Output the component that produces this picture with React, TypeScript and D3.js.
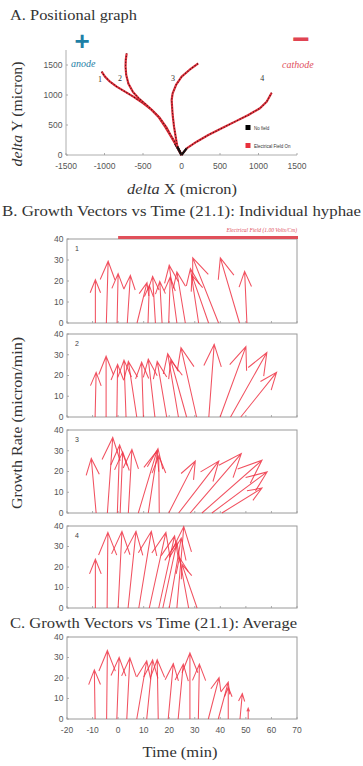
import React from 'react';
import * as d3 from 'd3';

// ---------- Panel A: positional tracks (delta X, delta Y in micron) ----------
const track1: [number, number][] = [[0,0],[-84,194],[-149,333],[-214,472],[-301,639],[-387,750],[-496,861],[-626,972],[-734,1056],[-842,1139],[-929,1222],[-994,1306],[-1037,1389]];
const track2: [number, number][] = [[0,0],[-70,180],[-140,330],[-200,470],[-290,630],[-380,745],[-470,850],[-560,950],[-630,1050],[-690,1190],[-718,1333],[-727,1472],[-724,1583],[-712,1694]];
const track3: [number, number][] = [[0,0],[-54,139],[-76,306],[-97,472],[-115,667],[-128,917],[-115,1028],[-71,1167],[2,1306],[102,1417],[218,1528]];
const track4: [number, number][] = [[0,0],[67,111],[197,222],[348,333],[522,444],[695,556],[868,667],[1019,778],[1106,889],[1171,1039]];
const trackLabels = ['1', '2', '3', '4'];
const trackLabelPos: [number, number][] = [[-1060,1220],[-800,1230],[-110,1230],[1050,1230]];
const axTicksX = [-1500, -1000, -500, 0, 500, 1000, 1500];
const axTicksY = [0, 500, 1000, 1500];

// ---------- Panel B: growth vectors for individual hyphae ----------
// base time (min), tip time (min), growth rate (micron/min)
const h1Base = [-8.9, -4.6, -0.4, 3.6, 7.4, 11.7, 14.6, 17.2, 19.8, 23.0, 26.3, 31.5, 35.4, 39.3, 47.5, 50.4];
const h1Tip  = [-8.9, -3.9, 0.0, 4.8, 11.3, 12.2, 13.5, 16.3, 20.4, 20.0, 23.0, 28.3, 28.9, 29.2, 40.0, 49.5];
const h1Rate = [20.6, 29.4, 23.5, 22.7, 19.2, 17.9, 22.2, 19.8, 21.9, 27.5, 24.3, 25.9, 22.7, 31.0, 31.0, 24.6];

const h2Base = [-9.0, -4.7, -0.5, 3.1, 7.3, 9.9, 14.4, 19.0, 23.6, 26.8, 30.7, 35.5, 39.9, 44.0, 48.0];
const h2Tip  = [-8.6, -4.7, -0.2, 2.3, 4.0, 9.2, 11.8, 15.3, 19.4, 20.6, 24.6, 37.6, 50.0, 58.2, 62.0];
const h2Rate = [21.5, 29.3, 25.4, 27.4, 26.8, 26.4, 27.9, 26.8, 30.5, 27.4, 33.4, 35.0, 33.9, 31.1, 21.5];

const h3Base = [-8.6, -4.2, -0.3, 0.8, 4.0, 7.9, 11.8, 16.1, 19.8, 23.7, 28.2, 32.8, 36.7, 40.6];
const h3Tip  = [-10.5, -2.1, 0.6, 1.8, 5.4, 15.2, 15.6, 15.9, 30.2, 39.4, 48.2, 56.3, 58.3, 56.3];
const h3Rate = [26.3, 36.4, 32.8, 29.5, 30.7, 29.9, 31.0, 27.5, 25.0, 25.0, 28.6, 25.4, 19.8, 12.0];

const h4Base = [-8.9, -4.3, 0.0, 3.9, 8.1, 12.2, 15.9, 17.5, 20.0, 23.0, 27.6, 30.9];
const h4Tip  = [-8.9, -4.0, 1.5, 7.0, 13.0, 18.7, 22.1, 23.0, 24.7, 25.7, 24.0, 25.0];
const h4Rate = [23.8, 36.9, 37.4, 37.4, 37.4, 36.9, 35.2, 32.0, 34.1, 39.7, 24.6, 21.3];

// ---------- Panel C: average growth vectors ----------
const avgBase = [-9.0, -4.5, -0.5, 3.4, 7.3, 11.2, 15.7, 19.6, 23.5, 28.1, 31.4, 35.3, 39.2, 43.1, 47.7, 50.9];
const avgTip  = [-9.3, -4.2, 0.4, 4.6, 11.2, 13.5, 15.3, 21.6, 25.5, 28.1, 31.8, 39.5, 43.1, 43.1, 48.6, 50.9];
const avgRate = [24.0, 33.4, 30.1, 29.8, 28.4, 28.8, 28.9, 27.0, 26.8, 32.2, 26.8, 20.2, 18.0, 15.5, 12.4, 5.3];

const timeTicks = [-20, -10, 0, 10, 20, 30, 40, 50, 60, 70];
const rateTicks = [0, 10, 20, 30, 40];
const fieldStart = 0;
const fieldEnd = 70;

const SERIF = '"Liberation Serif", "DejaVu Serif", serif';
const SANS = '"Liberation Sans", Arial, sans-serif';
const RED = '#ee3344';
const TEAL = '#1e80a6';

function arrowPath(x0: number, y0: number, x1: number, y1: number) {
  const dx = x1 - x0, dy = y1 - y0;
  const L = Math.hypot(dx, dy) || 1;
  const ux = dx / L, uy = dy / L;
  const h = 0.3 * L, w = 0.12 * L;
  const bx = x1 - h * ux, by = y1 - h * uy;
  const p = d3.path();
  p.moveTo(x0, y0); p.lineTo(x1, y1);
  p.moveTo(bx - w * uy, by + w * ux); p.lineTo(x1, y1); p.lineTo(bx + w * uy, by - w * ux);
  return p.toString();
}

const xT = d3.scaleLinear().domain([-20, 70]).range([67, 297]);

function VectorPanel({ bottom, height, base, tip, rate, label, showX, field }: any) {
  const y = d3.scaleLinear().domain([0, 40]).range([bottom, bottom - height]);
  const [x0, x1] = xT.range();
  return (
    <g>
      <rect x={x0} y={bottom - height} width={x1 - x0} height={height} fill="#fff" stroke="#9a9a9a" strokeWidth={1} />
      {timeTicks.map((t) => (
        <line key={'xt' + t} x1={xT(t)} x2={xT(t)} y1={bottom} y2={bottom - 2} stroke="#9a9a9a" strokeWidth={0.8} />
      ))}
      {rateTicks.map((r) => (
        <g key={'yt' + r}>
          <line x1={x0} x2={x0 + 2} y1={y(r)} y2={y(r)} stroke="#9a9a9a" strokeWidth={0.8} />
          <text x={x0 - 3.5} y={y(r)} dy="0.35em" textAnchor="end" fontFamily={SANS} fontSize={8.5} fill="#555">{r}</text>
        </g>
      ))}
      {showX && timeTicks.map((t) => (
        <text key={'xl' + t} x={xT(t)} y={bottom + 14} textAnchor="middle" fontFamily={SANS} fontSize={8.5} fill="#555">{t}</text>
      ))}
      {label && (
        <text x={x0 + 8} y={bottom - height + 12} fontFamily={SANS} fontSize={7} fill="#444">{label}</text>
      )}
      {base.map((b: number, i: number) => (
        <path key={i} d={arrowPath(xT(b), y(0), xT(tip[i]), y(rate[i]))} fill="none" stroke={RED} strokeWidth={1.05} strokeOpacity={0.85} strokeLinejoin="miter" />
      ))}
      {field && (
        <g>
          <line x1={xT(fieldStart)} x2={xT(fieldEnd) + 1} y1={bottom - height - 1.5} y2={bottom - height - 1.5} stroke="#e0505a" strokeWidth={3} />
          <text x={xT(fieldEnd)} y={bottom - height - 7} textAnchor="end" fontFamily={SERIF} fontStyle="italic" fontSize={5.5} fill="#e05060">Electrical Field (1.00 Volts/Cm)</text>
        </g>
      )}
    </g>
  );
}

export default function App() {
  const xA = d3.scaleLinear().domain([-1500, 1500]).range([66, 297]);
  const yA = d3.scaleLinear().domain([0, 1750]).range([155, 50]);
  const line = d3.line<[number, number]>().x((d) => xA(d[0])).y((d) => yA(d[1]));
  const tracks = [track1, track2, track3, track4];

  return (
    <svg width={363} height={766} style={{ position: 'absolute', left: 0, top: 0, background: '#fff' }}>
      <rect x={0} y={0} width={363} height={766} fill="#fff" />
      {/* Panel A */}
      <text x={10} y={20} textLength={127} lengthAdjust="spacingAndGlyphs" fontFamily={SERIF} fontSize={15.5} fill="#333">A. Positional graph</text>
      <text x={82} y={49.5} textAnchor="middle" fontFamily={SANS} fontWeight="bold" fontSize={26} fill={TEAL}>+</text>
      <text x={301} y={49} textAnchor="middle" fontFamily={SANS} fontWeight="bold" fontSize={30} fill="#e04452">−</text>
      <text x={71} y={67} fontFamily={SERIF} fontStyle="italic" fontSize={10} fill={TEAL}>anode</text>
      <text x={282} y={68} fontFamily={SERIF} fontStyle="italic" fontSize={10} fill="#e05060">cathode</text>

      <line x1={xA(-1500)} x2={xA(1500)} y1={yA(0)} y2={yA(0)} stroke="#999" strokeWidth={0.8} />
      <line x1={xA(-1500)} x2={xA(-1500)} y1={yA(0)} y2={yA(1750)} stroke="#999" strokeWidth={0.8} />
      {axTicksX.map((t) => (
        <g key={'ax' + t}>
          <line x1={xA(t)} x2={xA(t)} y1={yA(0)} y2={yA(0) - 2} stroke="#999" strokeWidth={0.8} />
          <text x={xA(t)} y={yA(0) + 14} textAnchor="middle" fontFamily={SANS} fontSize={8.5} fill="#555">{t}</text>
        </g>
      ))}
      {axTicksY.map((t) => (
        <g key={'ay' + t}>
          <line x1={xA(-1500)} x2={xA(-1500) + 2} y1={yA(t)} y2={yA(t)} stroke="#999" strokeWidth={0.8} />
          <text x={xA(-1500) - 3.5} y={yA(t)} dy="0.35em" textAnchor="end" fontFamily={SANS} fontSize={8.5} fill="#555">{t}</text>
        </g>
      ))}
      {tracks.map((tr, i) => (
        <g key={'tr' + i}>
          <path d={line(tr) || ''} fill="none" stroke="#e0303c" strokeWidth={2.2} strokeLinejoin="round" />
          <path d={line(tr) || ''} fill="none" stroke="#3a1010" strokeWidth={1.1} strokeDasharray="1 2" />
          <path d={line(tr.slice(0, 2)) || ''} fill="none" stroke="#111" strokeWidth={2.2} />
        </g>
      ))}
      {trackLabels.map((l, i) => (
        <text key={'tl' + i} x={xA(trackLabelPos[i][0])} y={yA(trackLabelPos[i][1])} textAnchor="middle" fontFamily={SERIF} fontSize={8} fill="#333">{l}</text>
      ))}
      <rect x={245.5} y={125} width={5} height={5} fill="#000" />
      <text x={254} y={129.5} fontFamily={SANS} fontSize={4.5} fill="#333">No field</text>
      <rect x={245.5} y={143} width={5} height={5} fill="#e8303c" />
      <text x={254} y={147.5} fontFamily={SANS} fontSize={4.5} fill="#333">Electrical Field On</text>

      <text transform="translate(22,114) rotate(-90)" textAnchor="middle" textLength={105} lengthAdjust="spacingAndGlyphs" fontFamily={SERIF} fontSize={15} fill="#333">
        <tspan fontStyle="italic">delta</tspan> Y (micron)
      </text>
      <text x={182} y={194} textAnchor="middle" textLength={110} lengthAdjust="spacingAndGlyphs" fontFamily={SERIF} fontSize={15} fill="#333">
        <tspan fontStyle="italic">delta</tspan> X (micron)
      </text>

      {/* Panel B */}
      <text x={2} y={216} textLength={359} lengthAdjust="spacingAndGlyphs" fontFamily={SERIF} fontSize={14.5} fill="#333">B. Growth Vectors vs Time (21.1): Individual hyphae</text>
      <VectorPanel bottom={323} height={84} base={h1Base} tip={h1Tip} rate={h1Rate} label="1" field />
      <VectorPanel bottom={417} height={83} base={h2Base} tip={h2Tip} rate={h2Rate} label="2" />
      <VectorPanel bottom={513} height={83} base={h3Base} tip={h3Tip} rate={h3Rate} label="3" />
      <VectorPanel bottom={608} height={82} base={h4Base} tip={h4Tip} rate={h4Rate} label="4" />
      <text transform="translate(22,423) rotate(-90)" textAnchor="middle" textLength={172} lengthAdjust="spacingAndGlyphs" fontFamily={SERIF} fontSize={15} fill="#333">Growth Rate (micron/min)</text>

      {/* Panel C */}
      <text x={10} y={628} textLength={287} lengthAdjust="spacingAndGlyphs" fontFamily={SERIF} fontSize={14.5} fill="#333">C. Growth Vectors vs Time (21.1): Average</text>
      <VectorPanel bottom={719} height={82} base={avgBase} tip={avgTip} rate={avgRate} showX />
      <text x={180} y={757} textAnchor="middle" textLength={75} lengthAdjust="spacingAndGlyphs" fontFamily={SERIF} fontSize={15} fill="#333">Time (min)</text>
    </svg>
  );
}
